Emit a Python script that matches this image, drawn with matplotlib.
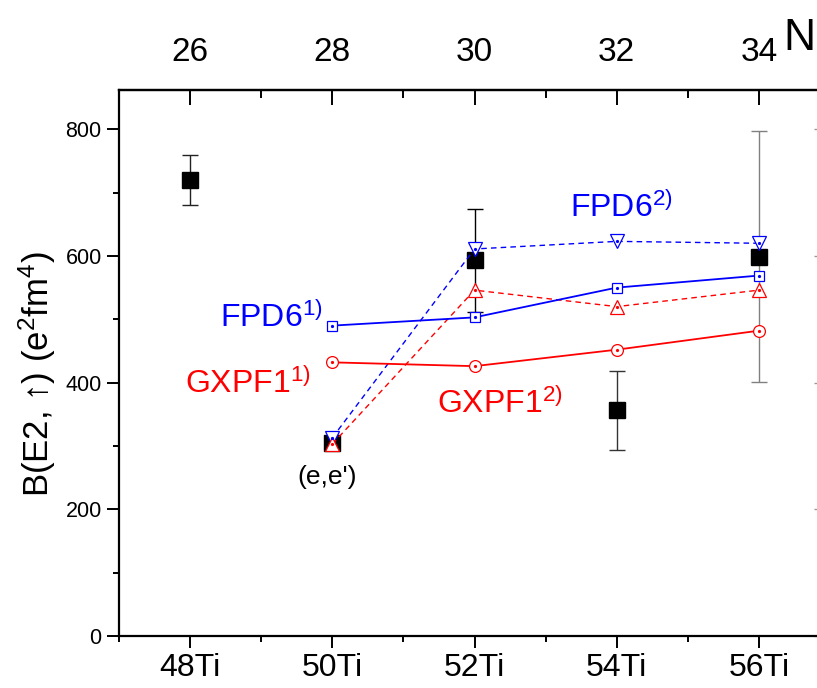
import matplotlib.pyplot as plt
from matplotlib.ticker import MultipleLocator

plt.rcParams['font.family'] = ['Liberation Sans', 'DejaVu Sans']
plt.rcParams['mathtext.fontset'] = 'custom'
plt.rcParams['mathtext.rm'] = 'Liberation Sans'
plt.rcParams['mathtext.it'] = 'Liberation Sans:italic'

# mass numbers of the Ti isotopes and the matching neutron numbers
iso_a = [48, 50, 52, 54, 56]
iso_labels = ['48Ti', '50Ti', '52Ti', '54Ti', '56Ti']
n_labels = ['26', '28', '30', '32', '34']

# measured B(E2) values with errors
exp_a = [48, 50, 52, 54, 56]
exp_be2 = [720, 305, 593, 356, 599]
exp_err = [40, 0, 81, 63, 198]
err_colors = ['#222222', '#222222', '#000000', '#333333', '#808080']

# shell model results
calc_a = [50, 52, 54, 56]
fpd6_1 = [490, 503, 550, 569]
gxpf1_1 = [432, 426, 452, 482]
fpd6_2 = [313, 611, 623, 620]
gxpf1_2 = [303, 546, 520, 546]

fig = plt.figure(figsize=(8.17, 6.88), dpi=100)
ax = fig.add_axes([0.1457, 0.0756, 0.8641, 0.7936])

for a, v, e, c in zip(exp_a, exp_be2, exp_err, err_colors):
    ax.errorbar([a], [v], yerr=[e], fmt='s', color='black', ms=12,
                ecolor=c, elinewidth=1.0, capsize=6, capthick=1.0, zorder=2)

blue = '#0000ff'
red = '#ff0000'
ax.plot(calc_a, fpd6_2, '--', color=blue, lw=1.0, dashes=(4, 3),
        marker='v', ms=10, mfc='white', mec=blue, mew=0.9, zorder=3)
ax.plot(calc_a, gxpf1_2, '--', color=red, lw=1.0, dashes=(4, 3),
        marker='^', ms=10, mfc='white', mec=red, mew=0.9, zorder=3)
ax.plot(calc_a, fpd6_1, '-', color=blue, lw=1.3,
        marker='s', ms=7, mfc='white', mec=blue, mew=0.9, zorder=4)
ax.plot(calc_a, gxpf1_1, '-', color=red, lw=1.3,
        marker='o', ms=8.5, mfc='white', mec=red, mew=0.9, zorder=4)
# centre dots of the open symbols
for ys, col in [(fpd6_2, blue), (gxpf1_2, red), (fpd6_1, blue), (gxpf1_1, red)]:
    ax.plot(calc_a, ys, ls='none', marker='o', ms=1.3, color=col, zorder=5)

ax.set_xlim(47, 56.93)
ax.set_ylim(0, 862)
ax.set_xticks(iso_a)
ax.set_xticklabels(iso_labels)
ax.xaxis.set_minor_locator(MultipleLocator(1))
ax.set_yticks([0, 200, 400, 600, 800])
ax.yaxis.set_minor_locator(MultipleLocator(100))

for s in ax.spines.values():
    s.set_linewidth(1.6)

ax.tick_params(axis='x', which='major', direction='out', length=8.5, width=1.4,
               labelsize=23, pad=4)
ax.tick_params(axis='x', which='minor', direction='out', length=4.5, width=1.4)
ax.tick_params(axis='y', which='major', direction='out', length=8.5, width=1.4,
               labelsize=15.5, pad=4)
ax.tick_params(axis='y', which='minor', direction='out', length=4.5, width=1.4)

# neutron number axis on top
top = ax.secondary_xaxis('top')
top.set_xticks(iso_a)
top.set_xticklabels(n_labels)
top.xaxis.set_minor_locator(MultipleLocator(1))
top.tick_params(which='major', direction='in', length=11, width=1.4,
                labelsize=24, pad=16)
top.tick_params(which='minor', direction='in', length=6, width=1.4)
top.spines['top'].set_linewidth(1.6)

right = ax.secondary_yaxis('right')
right.set_yticks([0, 200, 400, 600, 800])
right.tick_params(direction='in', length=8, width=1.0, labelright=False,
                  color='#999999')

fig.text(783 / 817, 1 - 50 / 688, 'N', fontsize=32, va='baseline')

fig.text(37 / 817, 1 - 374 / 688, 'B(E2, \u2191) (e$^2$fm$^4$)', fontsize=25,
         rotation=90, ha='center', va='center')

fig.text(220 / 817, 1 - 327 / 688, 'FPD6$^{1)}$', color=blue, fontsize=23,
         va='baseline')
fig.text(185 / 817, 1 - 393 / 688, 'GXPF1$^{1)}$', color=red, fontsize=23,
         va='baseline')
fig.text(570 / 817, 1 - 217 / 688, 'FPD6$^{2)}$', color=blue, fontsize=23,
         va='baseline')
fig.text(437 / 817, 1 - 413 / 688, 'GXPF1$^{2)}$', color=red, fontsize=23,
         va='baseline')
fig.text(327 / 817, 1 - 484 / 688, "(e,e')", color='black', fontsize=19,
         ha='center', va='baseline')

fig.savefig('out.png', dpi=100)
